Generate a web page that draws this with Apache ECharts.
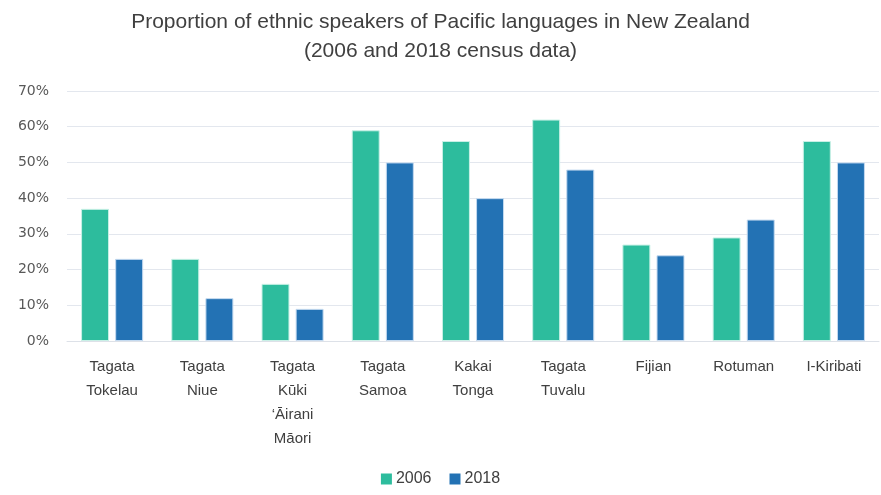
<!DOCTYPE html>
<html><head><meta charset="utf-8">
<script src="https://cdn.jsdelivr.net/npm/echarts@6/dist/echarts.min.js"></script>
<style>html,body{margin:0;padding:0;background:#fff}#c{width:881px;height:495px}</style>
</head><body><div id="c"></div>
<script>
const categories = ["Tagata\nTokelau","Tagata\nNiue","Tagata\nKūki\n‘Āirani\nMāori","Tagata\nSamoa","Kakai\nTonga","Tagata\nTuvalu","Fijian","Rotuman","I-Kiribati"];
const values2006 = [37,23,16,59,56,62,27,29,56];
const values2018 = [23,12,9,50,40,48,24,34,50];
const seriesNames = ["2006","2018"];
const narrow = '"Liberation Sans Narrow","Liberation Sans",sans-serif';
const chart = echarts.init(document.getElementById('c'));
chart.setOption({
  animation:false,
  title:{text:"Proportion of ethnic speakers of Pacific languages in New Zealand\n(2006 and 2018 census data)",left:'center',top:3,
    textStyle:{fontFamily:narrow,fontSize:21,fontWeight:'normal',color:'#404040',lineHeight:29}},
  legend:{bottom:3,left:'center',itemWidth:11,itemHeight:11,itemGap:18,icon:'rect',
    itemStyle:{borderWidth:0},
    textStyle:{fontFamily:narrow,fontSize:16,color:'#404040',padding:[0,0,0,-1]}},
  grid:{left:67,right:2,top:91,bottom:154},
  xAxis:{type:'category',data:categories,
    axisLine:{lineStyle:{color:'#dde1e8'}},axisTick:{show:false},
    axisLabel:{fontFamily:narrow,fontSize:15,color:'#404040',lineHeight:24,margin:14,interval:0}},
  yAxis:{type:'value',min:0,max:70,interval:10,
    axisLabel:{formatter:'{value}%',fontFamily:'"DejaVu Sans",sans-serif',fontSize:14,color:'#595959',margin:18},
    splitLine:{lineStyle:{color:'#e3e7ee',width:1}},axisLine:{show:false},axisTick:{show:false}},
  series:[
    {name:seriesNames[0],type:'bar',data:values2006,barWidth:'31%',barGap:'22%',
      itemStyle:{color:'#2dbc9d',borderColor:'#c8f0e6',borderWidth:1}},
    {name:seriesNames[1],type:'bar',data:values2018,barWidth:'31%',
      itemStyle:{color:'#2372b4',borderColor:'#c4daf0',borderWidth:1}}
  ]
});
</script></body></html>
